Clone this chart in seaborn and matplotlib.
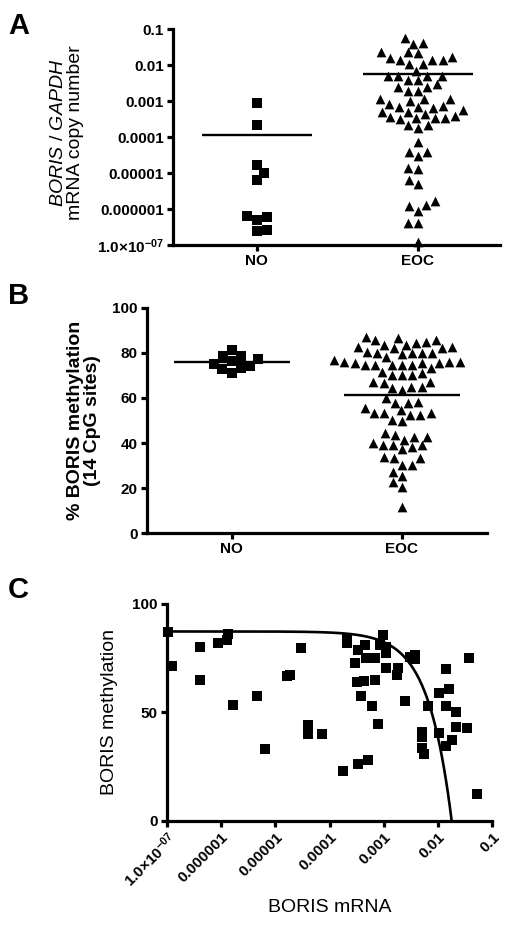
import numpy as np
import pandas as pd
import matplotlib
matplotlib.use("Agg")
import matplotlib.pyplot as plt
import seaborn as sns

# ------------------------------
# Data
# ------------------------------
groups = ["NO", "EOC"]

# A: BORIS / GAPDH mRNA copy number
no_mrna = [8.7e-4, 2.2e-4, 1.7e-5, 1.0e-5, 6.5e-6, 5.1e-7, 6.4e-7, 5.9e-7, 2.5e-7, 2.6e-7]
eoc_mrna = [0.055, 0.040, 0.038, 0.017, 0.014, 0.014, 0.0225, 0.022, 0.0225, 0.014, 0.016, 0.011, 0.011,
            0.0050, 0.0050, 0.0070, 0.0038, 0.0029, 0.0038, 0.0050, 0.0050,
            0.0024, 0.0019, 0.0019, 0.0024,
            0.00102, 0.00111, 0.00111, 0.00111, 0.00073, 0.00081, 0.00067, 0.00056,
            0.00050, 0.00050, 0.00063, 0.00067,
            0.00034, 0.00033, 0.00038, 0.00043, 0.00035, 0.00032, 0.00033,
            0.00022, 0.00018, 0.00022,
            7.4e-5, 3.9e-5, 3.0e-5, 3.9e-5, 1.3e-5, 1.4e-5,
            6.4e-6, 4.9e-6, 1.7e-6, 1.2e-6, 1.3e-6, 8.8e-7, 4.2e-7, 4.2e-7, 1.24e-7]

# B: % BORIS methylation (14 CpG sites)
no_meth = [81.2, 75.0, 78.6, 73.1, 77.1, 70.9, 78.6, 72.7, 74.2, 76.5]
eoc_meth = [87.2, 86.4, 85.7, 85.0, 85.7,
            82.0, 82.0, 83.5, 82.7, 83.5, 84.2, 82.7,
            79.5, 79.8, 79.8, 80.1, 80.5, 80.1,
            75.4, 75.6, 76.8, 74.6, 76.1, 74.6, 76.1, 74.6, 76.1, 74.6, 78.3, 74.6, 73.1, 75.6,
            71.6, 70.2, 70.2, 70.2, 70.9,
            66.9, 65.0, 64.3, 63.5, 65.0, 66.8, 67.2,
            58.3, 57.9, 57.9, 59.8,
            54.6, 55.4,
            53.1, 53.1, 52.4, 52.4, 53.1,
            50.2, 49.9,
            43.6, 42.8, 41.4, 42.8, 44.3,
            39.2, 39.2, 40.2, 38.1, 39.2,
            37.2,
            33.2, 34.0, 33.2,
            30.3, 30.3,
            27.3, 25.6,
            22.9, 20.7,
            11.8]

# C: methylation vs mRNA
c_mrna = [1.05e-7, 1.23e-7, 4.1e-7, 4.1e-7, 8.9e-7, 1.29e-6, 1.32e-6, 1.7e-6, 4.7e-6, 6.5e-6,
          1.66e-5, 1.86e-5, 2.95e-5, 4.1e-5, 4.1e-5, 7.2e-5, 1.78e-4, 2.1e-4, 2.1e-4, 2.95e-4,
          3.2e-4, 3.4e-4, 3.4e-4, 3.8e-4, 4.4e-4, 4.5e-4, 4.8e-4, 5.1e-4, 6.0e-4, 6.9e-4,
          6.9e-4, 7.8e-4, 8.5e-4, 9.8e-4, 1.12e-3, 1.12e-3, 1.12e-3, 1.74e-3, 1.86e-3, 2.45e-3,
          3.0e-3, 3.8e-3, 3.8e-3, 5.0e-3, 5.0e-3, 5.0e-3, 5.4e-3, 6.6e-3, 0.0105, 0.0105,
          0.0141, 0.0141, 0.0141, 0.0162, 0.0178, 0.0214, 0.0214, 0.0339, 0.0372, 0.0525]
c_meth = [87.2, 71.4, 80.3, 64.9, 81.9, 83.4, 86.2, 53.4, 57.5, 33.1,
          66.9, 67.2, 79.5, 44.2, 39.9, 39.9, 23.1, 84.2, 81.9, 72.6,
          64.2, 78.8, 26.0, 57.5, 64.6, 81.1, 74.9, 28.0, 52.9, 74.9,
          64.9, 44.6, 81.1, 85.7, 80.3, 77.2, 70.3, 67.2, 70.3, 55.4,
          75.7, 76.5, 74.5, 41.1, 38.8, 33.4, 30.8, 52.9, 59.1, 40.3,
          69.9, 53.1, 34.6, 60.6, 37.2, 50.3, 43.1, 42.9, 74.9, 12.2]

# linear fit shown in C
fit_intercept = 87.3
fit_slope = -4900.0

log_ticks = [1e-7, 1e-6, 1e-5, 1e-4, 1e-3, 1e-2, 1e-1]
log_labels = ["1.0\u00d7$\\mathbf{10^{-07}}$", "0.000001", "0.00001", "0.0001", "0.001", "0.01", "0.1"]

# ------------------------------
# Style
# ------------------------------
sns.set_style("ticks")
plt.rcParams["font.family"] = ["Liberation Sans", "DejaVu Sans"]
plt.rcParams["mathtext.fontset"] = "custom"
plt.rcParams["mathtext.rm"] = "Liberation Sans"
plt.rcParams["mathtext.it"] = "Liberation Sans:italic"
plt.rcParams["mathtext.bf"] = "Liberation Sans:bold"
plt.rcParams["axes.linewidth"] = 2.3
plt.rcParams["xtick.major.width"] = 2.3
plt.rcParams["ytick.major.width"] = 2.3
plt.rcParams["xtick.major.size"] = 4.5
plt.rcParams["ytick.major.size"] = 4.5
plt.rcParams["axes.edgecolor"] = "black"
plt.rcParams["xtick.color"] = "black"
plt.rcParams["ytick.color"] = "black"
plt.rcParams["text.color"] = "black"
plt.rcParams["axes.labelcolor"] = "black"

fig = plt.figure(figsize=(5.1, 9.27), dpi=100)
axA = fig.add_axes([0.3392, 0.7357, 0.6412, 0.2330])
axB = fig.add_axes([0.2876, 0.4247, 0.6673, 0.2434])
axC = fig.add_axes([0.3269, 0.1147, 0.6384, 0.2338])

TICK_SIZE = 11
LABEL_SIZE = 14
MARK = 7

def style_axes(ax):
    sns.despine(ax=ax)
    ax.tick_params(axis="both", direction="out", pad=2)
    for lab in ax.get_xticklabels() + ax.get_yticklabels():
        lab.set_fontweight("bold")
        lab.set_fontsize(TICK_SIZE)

def mean_lines(ax, values_by_group):
    for i, vals in enumerate(values_by_group):
        ax.hlines(np.mean(vals), i - 0.34, i + 0.34, color="black", lw=1.7, zorder=5)

# ------------------------------
# A
# ------------------------------
dfA_no = pd.DataFrame({"group": "NO", "value": no_mrna})
dfA_eoc = pd.DataFrame({"group": "EOC", "value": eoc_mrna})
sns.swarmplot(data=dfA_no, x="group", y="value", order=groups, marker="s", color="black",
              size=MARK, log_scale=True, ax=axA, linewidth=0)
sns.swarmplot(data=dfA_eoc, x="group", y="value", order=groups, marker="^", color="black",
              size=MARK, log_scale=True, ax=axA, linewidth=0)
mean_lines(axA, [no_mrna, eoc_mrna])
axA.set_ylim(1e-7, 0.1)
axA.set_xlim(-0.52, 1.51)
axA.set_yticks(log_ticks)
axA.set_yticklabels(log_labels)
axA.yaxis.set_minor_locator(matplotlib.ticker.NullLocator())
axA.set_xlabel("")
axA.set_ylabel("$\\mathit{BORIS\\ /\\ GAPDH}$\nmRNA copy number", fontsize=LABEL_SIZE, linespacing=1.0)
axA.yaxis.set_label_coords(-0.272, 0.52)
style_axes(axA)
for c in axA.collections:
    c.set_clip_on(False)

# ------------------------------
# B
# ------------------------------
dfB_no = pd.DataFrame({"group": "NO", "value": no_meth})
dfB_eoc = pd.DataFrame({"group": "EOC", "value": eoc_meth})
sns.swarmplot(data=dfB_no, x="group", y="value", order=groups, marker="s", color="black",
              size=MARK, ax=axB, linewidth=0)
sns.swarmplot(data=dfB_eoc, x="group", y="value", order=groups, marker="^", color="black",
              size=MARK, ax=axB, linewidth=0)
mean_lines(axB, [no_meth, eoc_meth])
axB.set_ylim(0, 100)
axB.set_xlim(-0.5, 1.5)
axB.set_yticks([0, 20, 40, 60, 80, 100])
axB.set_xlabel("")
axB.set_ylabel("% BORIS methylation\n(14 CpG sites)", fontsize=LABEL_SIZE, fontweight="bold", linespacing=1.0)
axB.yaxis.set_label_coords(-0.135, 0.5)
style_axes(axB)

# ------------------------------
# C
# ------------------------------
sns.scatterplot(x=c_mrna, y=c_meth, marker="s", color="black", s=48, linewidth=0, ax=axC, clip_on=False)
x_end = -fit_intercept / fit_slope
fit_x = np.logspace(-7, np.log10(x_end), 300)
sns.lineplot(x=fit_x, y=fit_intercept + fit_slope * fit_x, color="black", lw=1.9, ax=axC)
axC.set_xscale("log")
axC.set_xlim(1e-7, 0.1)
axC.set_ylim(0, 100)
axC.set_xticks(log_ticks)
axC.set_xticklabels(log_labels, rotation=45, ha="right", va="top", rotation_mode="anchor")
axC.xaxis.set_minor_locator(matplotlib.ticker.NullLocator())
axC.set_yticks([0, 50, 100])
axC.set_xlabel("BORIS mRNA", fontsize=LABEL_SIZE)
axC.set_ylabel("BORIS methylation", fontsize=LABEL_SIZE)
axC.xaxis.set_label_coords(0.5, -0.36)
axC.yaxis.set_label_coords(-0.15, 0.5)
style_axes(axC)

# panel letters
fig.text(0.016, 0.987, "A", fontsize=21, fontweight="bold", va="top")
fig.text(0.016, 0.696, "B", fontsize=21, fontweight="bold", va="top")
fig.text(0.016, 0.379, "C", fontsize=21, fontweight="bold", va="top")

fig.savefig("out.png", dpi=100)
